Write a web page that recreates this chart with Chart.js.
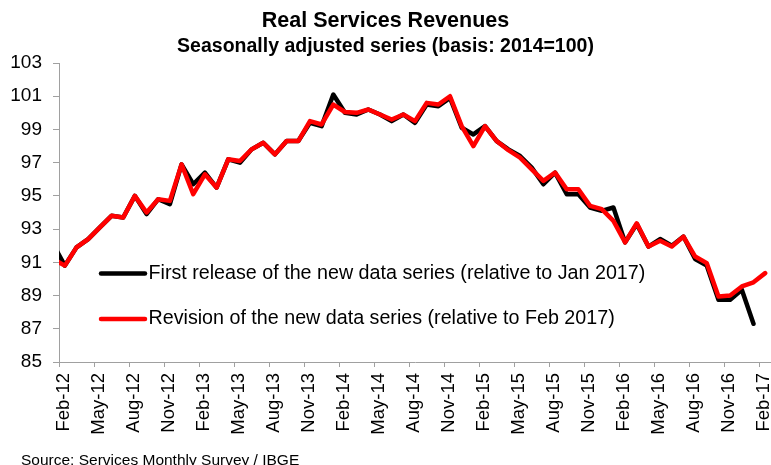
<!DOCTYPE html>
<html>
<head>
<meta charset="utf-8">
<script src="https://cdn.jsdelivr.net/npm/chart.js@4.4.1/dist/chart.umd.min.js"></script>
<style>
    html, body { margin: 0; padding: 0; background: #fff; }
    #wrap { width: 771px; height: 465px; }
</style>
</head>
<body>
<div id="wrap"><canvas id="chart" width="771" height="465"></canvas></div>
<script>
"use strict";

// Jan-12 is only there so the lines enter from the left edge (clipped by the plot area)
const months = [
    "Jan-12", "Feb-12", "Mar-12", "Apr-12", "May-12", "Jun-12", "Jul-12", "Aug-12", "Sep-12", "Oct-12", "Nov-12", "Dec-12",
    "Jan-13", "Feb-13", "Mar-13", "Apr-13", "May-13", "Jun-13", "Jul-13", "Aug-13", "Sep-13", "Oct-13", "Nov-13", "Dec-13",
    "Jan-14", "Feb-14", "Mar-14", "Apr-14", "May-14", "Jun-14", "Jul-14", "Aug-14", "Sep-14", "Oct-14", "Nov-14", "Dec-14",
    "Jan-15", "Feb-15", "Mar-15", "Apr-15", "May-15", "Jun-15", "Jul-15", "Aug-15", "Sep-15", "Oct-15", "Nov-15", "Dec-15",
    "Jan-16", "Feb-16", "Mar-16", "Apr-16", "May-16", "Jun-16", "Jul-16", "Aug-16", "Sep-16", "Oct-16", "Nov-16", "Dec-16",
    "Jan-17", "Feb-17"
];

const tickLabels = [
    "Feb-12", "May-12", "Aug-12", "Nov-12", "Feb-13", "May-13", "Aug-13", "Nov-13",
    "Feb-14", "May-14", "Aug-14", "Nov-14", "Feb-15", "May-15", "Aug-15", "Nov-15",
    "Feb-16", "May-16", "Aug-16", "Nov-16", "Feb-17"
];

const firstRelease = [
    92.1,
    90.8, 91.9, 92.4, 93.1, 93.8, 93.7, 95.0, 93.9, 94.8, 94.5, 96.9,
    95.7, 96.4, 95.5, 97.2, 97.0, 97.8, 98.2, 97.5, 98.3, 98.3, 99.4, 99.2,
    101.1, 100.0, 99.9, 100.2, 99.9, 99.5, 99.9, 99.4, 100.5, 100.4, 100.9, 99.1,
    98.7, 99.2, 98.3, 97.8, 97.4, 96.7, 95.7, 96.4, 95.1, 95.1, 94.3, 94.1,
    94.3, 92.2, 93.3, 91.95, 92.4, 92.0, 92.55, 91.2, 90.8, 88.75, 88.75, 89.35,
    87.3, null
];

const revision = [
    91.2,
    90.8, 91.9, 92.4, 93.1, 93.8, 93.7, 95.0, 94.0, 94.8, 94.7, 96.9,
    95.1, 96.3, 95.5, 97.2, 97.1, 97.8, 98.2, 97.5, 98.3, 98.3, 99.5, 99.3,
    100.5, 100.05, 100.0, 100.2, 99.9, 99.6, 99.9, 99.5, 100.6, 100.5, 101.0, 99.2,
    98.0, 99.2, 98.3, 97.75, 97.3, 96.6, 95.9, 96.4, 95.4, 95.4, 94.4, 94.2,
    93.5, 92.2, 93.35, 91.95, 92.3, 91.95, 92.55, 91.35, 90.95, 88.95, 89.0, 89.55,
    89.8, 90.35
];

const seriesNames = [
    "First release of the new data series (relative to Jan 2017)",
    "Revision of the new data series (relative to Feb 2017)"
];

const FONT = "'Liberation Sans', Arial, sans-serif";
const AXIS_GRAY = "#a0a0a0";

function toPoints(values) {
    return values.map((v, i) => ({x: i, y: v}));
}

// legend rows inside the plot + source line under the chart
const annotations = {
    id: "annotations",
    afterDraw(chart) {
        const ctx = chart.ctx;
        const rows = [273.5, 319];
        ctx.save();
        chart.data.datasets.forEach((ds, i) => {
            ctx.strokeStyle = ds.borderColor;
            ctx.lineWidth = ds.borderWidth;
            ctx.lineCap = "round";
            ctx.beginPath();
            ctx.moveTo(101, rows[i]);
            ctx.lineTo(145, rows[i]);
            ctx.stroke();

            ctx.fillStyle = "#000";
            ctx.font = `19.7px ${FONT}`;
            ctx.textBaseline = "middle";
            ctx.textAlign = "left";
            ctx.fillText(ds.label, 148.5, rows[i]);
        });
        ctx.font = `15.5px ${FONT}`;
        ctx.textBaseline = "alphabetic";
        ctx.fillStyle = "#000";
        ctx.fillText("Source: Services Monthly Survey / IBGE", 21, 465);
        ctx.restore();
    }
};

document.addEventListener("DOMContentLoaded", function () {
    Chart.defaults.color = "#000";
    Chart.defaults.font.family = FONT;

    const ctx = document.getElementById("chart").getContext("2d");

    new Chart(ctx, {
        type: "line",
        data: {
            datasets: [{
                label: seriesNames[0],
                data: toPoints(firstRelease),
                borderColor: "#000000",
                borderWidth: 4.5,
                order: 1
            }, {
                label: seriesNames[1],
                data: toPoints(revision),
                borderColor: "#ff0000",
                borderWidth: 4.5,
                order: 0
            }]
        },
        options: {
            responsive: false,
            animation: false,
            layout: {padding: 0},
            datasets: {
                line: {
                    tension: 0,
                    pointRadius: 0,
                    borderJoinStyle: "round",
                    borderCapStyle: "round",
                    clip: 0,
                    spanGaps: false
                }
            },
            plugins: {
                legend: {display: false},
                tooltip: {enabled: false},
                title: {
                    display: true,
                    text: "Real Services Revenues",
                    font: {size: 21.5, weight: "bold"},
                    padding: {top: 8, bottom: 0}
                },
                subtitle: {
                    display: true,
                    text: "Seasonally adjusted series (basis: 2014=100)",
                    font: {size: 19.5, weight: "bold"},
                    color: "#000",
                    padding: {top: 1, bottom: 4.8}
                }
            },
            scales: {
                x: {
                    type: "linear",
                    min: 0.5,
                    max: 61.5,
                    afterBuildTicks(scale) {
                        scale.ticks = tickLabels.map(l => ({value: months.indexOf(l) - 0.5}));
                    },
                    afterFit(scale) {
                        scale.height = 103;
                        scale.paddingLeft = 0;
                        scale.paddingRight = 0;
                    },
                    ticks: {
                        autoSkip: false,
                        maxRotation: 90,
                        minRotation: 90,
                        labelOffset: 5,
                        padding: 6,
                        font: {size: 18.5},
                        callback: value => months[Math.round(value + 0.5)]
                    },
                    grid: {
                        drawOnChartArea: false,
                        tickLength: 5,
                        color: AXIS_GRAY
                    },
                    border: {color: AXIS_GRAY, width: 1}
                },
                y: {
                    min: 85,
                    max: 103,
                    afterFit(scale) {
                        scale.width = 59;
                    },
                    ticks: {
                        stepSize: 2,
                        padding: 11,
                        font: {size: 19}
                    },
                    grid: {
                        drawOnChartArea: false,
                        tickLength: 6,
                        color: AXIS_GRAY
                    },
                    border: {color: AXIS_GRAY, width: 1}
                }
            }
        },
        plugins: [annotations]
    });
});
</script>
</body>
</html>
